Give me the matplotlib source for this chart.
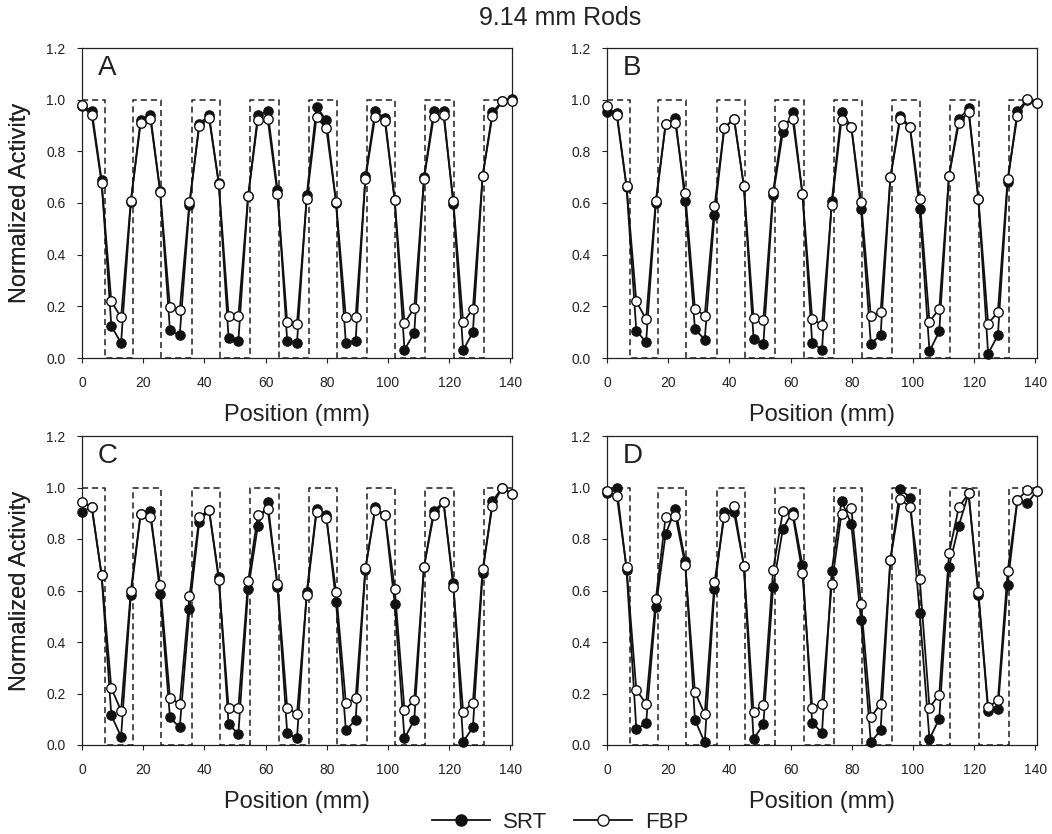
import numpy as np
import matplotlib
matplotlib.use("Agg")
import matplotlib.pyplot as plt
from matplotlib.lines import Line2D

plt.rcParams['font.family'] = ['Liberation Sans', 'DejaVu Sans']

# ---------------- data ----------------
n_samples = 45
sample_spacing_mm = 3.193
positions = np.arange(n_samples) * sample_spacing_mm

# rod (high) intervals of the ideal profile, mm
rod_starts = [0.0, 16.67, 35.95, 55.0, 74.1, 93.1, 112.2, 131.2]
rod_ends = [7.41, 25.9, 45.2, 64.3, 83.3, 102.4, 121.5, 140.5]
rod_level = 1.0

A_srt = [0.975, 0.957, 0.690, 0.124, 0.058, 0.605, 0.923, 0.939, 0.645, 0.107, 0.088, 0.594, 0.907, 0.939, 0.676,
         0.077, 0.065, 0.626, 0.941, 0.955, 0.652, 0.065, 0.058, 0.632, 0.972, 0.920, 0.600, 0.058, 0.065, 0.703,
         0.955, 0.929, 0.610, 0.032, 0.097, 0.699, 0.957, 0.957, 0.596, 0.030, 0.100, 0.705, 0.951, 0.994, 1.004]
A_fbp = [0.978, 0.939, 0.679, 0.219, 0.157, 0.609, 0.908, 0.925, 0.643, 0.196, 0.185, 0.603, 0.898, 0.929, 0.674,
         0.164, 0.161, 0.626, 0.923, 0.926, 0.636, 0.139, 0.133, 0.615, 0.932, 0.889, 0.603, 0.157, 0.157, 0.693,
         0.934, 0.917, 0.610, 0.135, 0.194, 0.694, 0.934, 0.939, 0.606, 0.138, 0.190, 0.706, 0.938, 0.994, 0.994]

B_srt = [0.952, 0.948, 0.662, 0.106, 0.061, 0.600, 0.905, 0.928, 0.606, 0.112, 0.071, 0.555, 0.890, 0.926, 0.667,
         0.075, 0.054, 0.630, 0.875, 0.951, 0.635, 0.058, 0.032, 0.606, 0.952, 0.895, 0.577, 0.055, 0.090, 0.699,
         0.937, 0.895, 0.578, 0.026, 0.103, 0.706, 0.925, 0.966, 0.617, 0.017, 0.088, 0.680, 0.957, 1.000, 0.987]
B_fbp = [0.974, 0.941, 0.665, 0.219, 0.150, 0.609, 0.905, 0.908, 0.639, 0.190, 0.164, 0.587, 0.892, 0.926, 0.667,
         0.154, 0.148, 0.644, 0.903, 0.924, 0.635, 0.150, 0.129, 0.591, 0.923, 0.895, 0.604, 0.161, 0.178, 0.699,
         0.924, 0.895, 0.614, 0.141, 0.190, 0.706, 0.908, 0.954, 0.617, 0.133, 0.178, 0.694, 0.938, 1.001, 0.988]

C_srt = [0.906, 0.925, 0.662, 0.115, 0.032, 0.583, 0.897, 0.908, 0.587, 0.107, 0.068, 0.528, 0.867, 0.914, 0.652,
         0.081, 0.043, 0.604, 0.852, 0.945, 0.615, 0.045, 0.026, 0.594, 0.916, 0.893, 0.554, 0.058, 0.097, 0.681,
         0.923, 0.893, 0.548, 0.026, 0.097, 0.693, 0.910, 0.942, 0.630, 0.013, 0.068, 0.667, 0.946, 1.000, 0.975]
C_fbp = [0.945, 0.923, 0.662, 0.221, 0.133, 0.600, 0.897, 0.886, 0.623, 0.183, 0.160, 0.577, 0.884, 0.914, 0.641,
         0.145, 0.145, 0.635, 0.894, 0.915, 0.626, 0.145, 0.119, 0.583, 0.903, 0.880, 0.596, 0.164, 0.181, 0.686,
         0.912, 0.893, 0.606, 0.135, 0.174, 0.693, 0.895, 0.942, 0.613, 0.130, 0.163, 0.684, 0.929, 1.000, 0.974]

D_srt = [0.977, 1.000, 0.681, 0.062, 0.084, 0.535, 0.819, 0.916, 0.716, 0.097, 0.010, 0.604, 0.906, 0.903, 0.697,
         0.023, 0.080, 0.615, 0.840, 0.906, 0.700, 0.086, 0.048, 0.677, 0.948, 0.858, 0.484, 0.010, 0.058, 0.720,
         0.994, 0.961, 0.512, 0.023, 0.102, 0.693, 0.852, 0.977, 0.583, 0.133, 0.139, 0.623, 0.952, 0.939, 0.987]
D_fbp = [0.987, 0.968, 0.690, 0.213, 0.161, 0.568, 0.886, 0.890, 0.700, 0.206, 0.120, 0.632, 0.886, 0.928, 0.697,
         0.129, 0.157, 0.681, 0.908, 0.893, 0.668, 0.145, 0.161, 0.625, 0.899, 0.919, 0.548, 0.108, 0.161, 0.720,
         0.954, 0.925, 0.645, 0.145, 0.196, 0.745, 0.923, 0.977, 0.596, 0.146, 0.174, 0.675, 0.952, 0.990, 0.987]

panel_labels = ['A', 'B', 'C', 'D']
srt_series = [A_srt, B_srt, C_srt, D_srt]
fbp_series = [A_fbp, B_fbp, C_fbp, D_fbp]
x_ticks = [0, 20, 40, 60, 80, 100, 120, 140]
y_ticks = [0.0, 0.2, 0.4, 0.6, 0.8, 1.0, 1.2]
title = "9.14 mm Rods"
x_label = "Position (mm)"
y_label = "Normalized Activity"
legend_names = ["SRT", "FBP"]

# ideal profile as one step path (high inside rods, zero between)
prof_x, prof_y = [], []
for s, e in zip(rod_starts, rod_ends):
    if prof_x:
        prof_x += [s, s]
        prof_y += [0.0, rod_level]
    else:
        prof_x += [s]
        prof_y += [rod_level]
    prof_x += [e]
    prof_y += [rod_level]
    if e != rod_ends[-1]:
        prof_x += [e]
        prof_y += [0.0]

# ---------------- layout ----------------
W, H = 1052, 834
fig = plt.figure(figsize=(W / 100, H / 100), dpi=100)
fig.patch.set_facecolor('white')

txt = '#222222'
axes_px = [(82, 48, 512, 358), (607, 48, 1037, 358),
           (82, 436, 512, 745), (607, 436, 1037, 745)]

for k, (l, t, r, b) in enumerate(axes_px):
    ax = fig.add_axes([l / W, (H - b) / H, (r - l) / W, (b - t) / H])
    ax.plot(prof_x, prof_y, color='#1e1e1e', lw=1.1, dashes=(4.0, 2.6), zorder=1)
    ax.plot(positions, srt_series[k], color='#111111', lw=1.3, marker='o',
            ms=6.8, mfc='#111111', mec='#111111', mew=0.8, zorder=3, clip_on=False)
    ax.plot(positions, fbp_series[k], color='#111111', lw=1.3, marker='o',
            ms=6.8, mfc='white', mec='#111111', mew=1.0, zorder=4, clip_on=False)
    ax.set_xlim(0, 140.5)
    ax.set_ylim(0, 1.2)
    ax.set_xticks(x_ticks)
    ax.set_yticks(y_ticks)
    ax.set_xticklabels([str(v) for v in x_ticks])
    ax.set_yticklabels([f"{v:.1f}" for v in y_ticks])
    ax.tick_params(direction='out', length=3.8, width=0.8, color='#222222',
                   labelsize=10, labelcolor=txt)
    ax.tick_params(axis='x', pad=9)
    ax.tick_params(axis='y', pad=8)
    for sp in ax.spines.values():
        sp.set_linewidth(0.9)
        sp.set_color('#222222')
    ax.set_xlabel(x_label, fontsize=17, color=txt)
    ax.xaxis.set_label_coords(0.5, -57 / (b - t), transform=ax.transAxes)
    ax.xaxis.label.set_va('center')
    ax.set_ylabel(y_label, fontsize=17, color=txt)
    ax.yaxis.set_label_coords((20 - l) / (r - l), 0.5, transform=ax.transAxes)
    ax.yaxis.label.set_va('center')
    ax.text(0.036, 0.935, panel_labels[k], transform=ax.transAxes, fontsize=20,
            ha='left', va='center', color=txt)

fig.text(560 / W, 1 - 18 / H, title, ha='center', va='center', fontsize=18, color=txt)

handles = [
    Line2D([], [], color='#111111', lw=1.3, marker='o', ms=8, mfc='#111111', mec='#111111'),
    Line2D([], [], color='#111111', lw=1.3, marker='o', ms=8, mfc='white', mec='#111111'),
]
fig.legend(handles, legend_names, loc='center', bbox_to_anchor=(560 / W, 12 / H),
           ncol=2, frameon=False, fontsize=16, handlelength=2.6, handletextpad=0.6,
           columnspacing=1.2, borderpad=0, labelcolor=txt)

fig.savefig('out.png', dpi=100)
